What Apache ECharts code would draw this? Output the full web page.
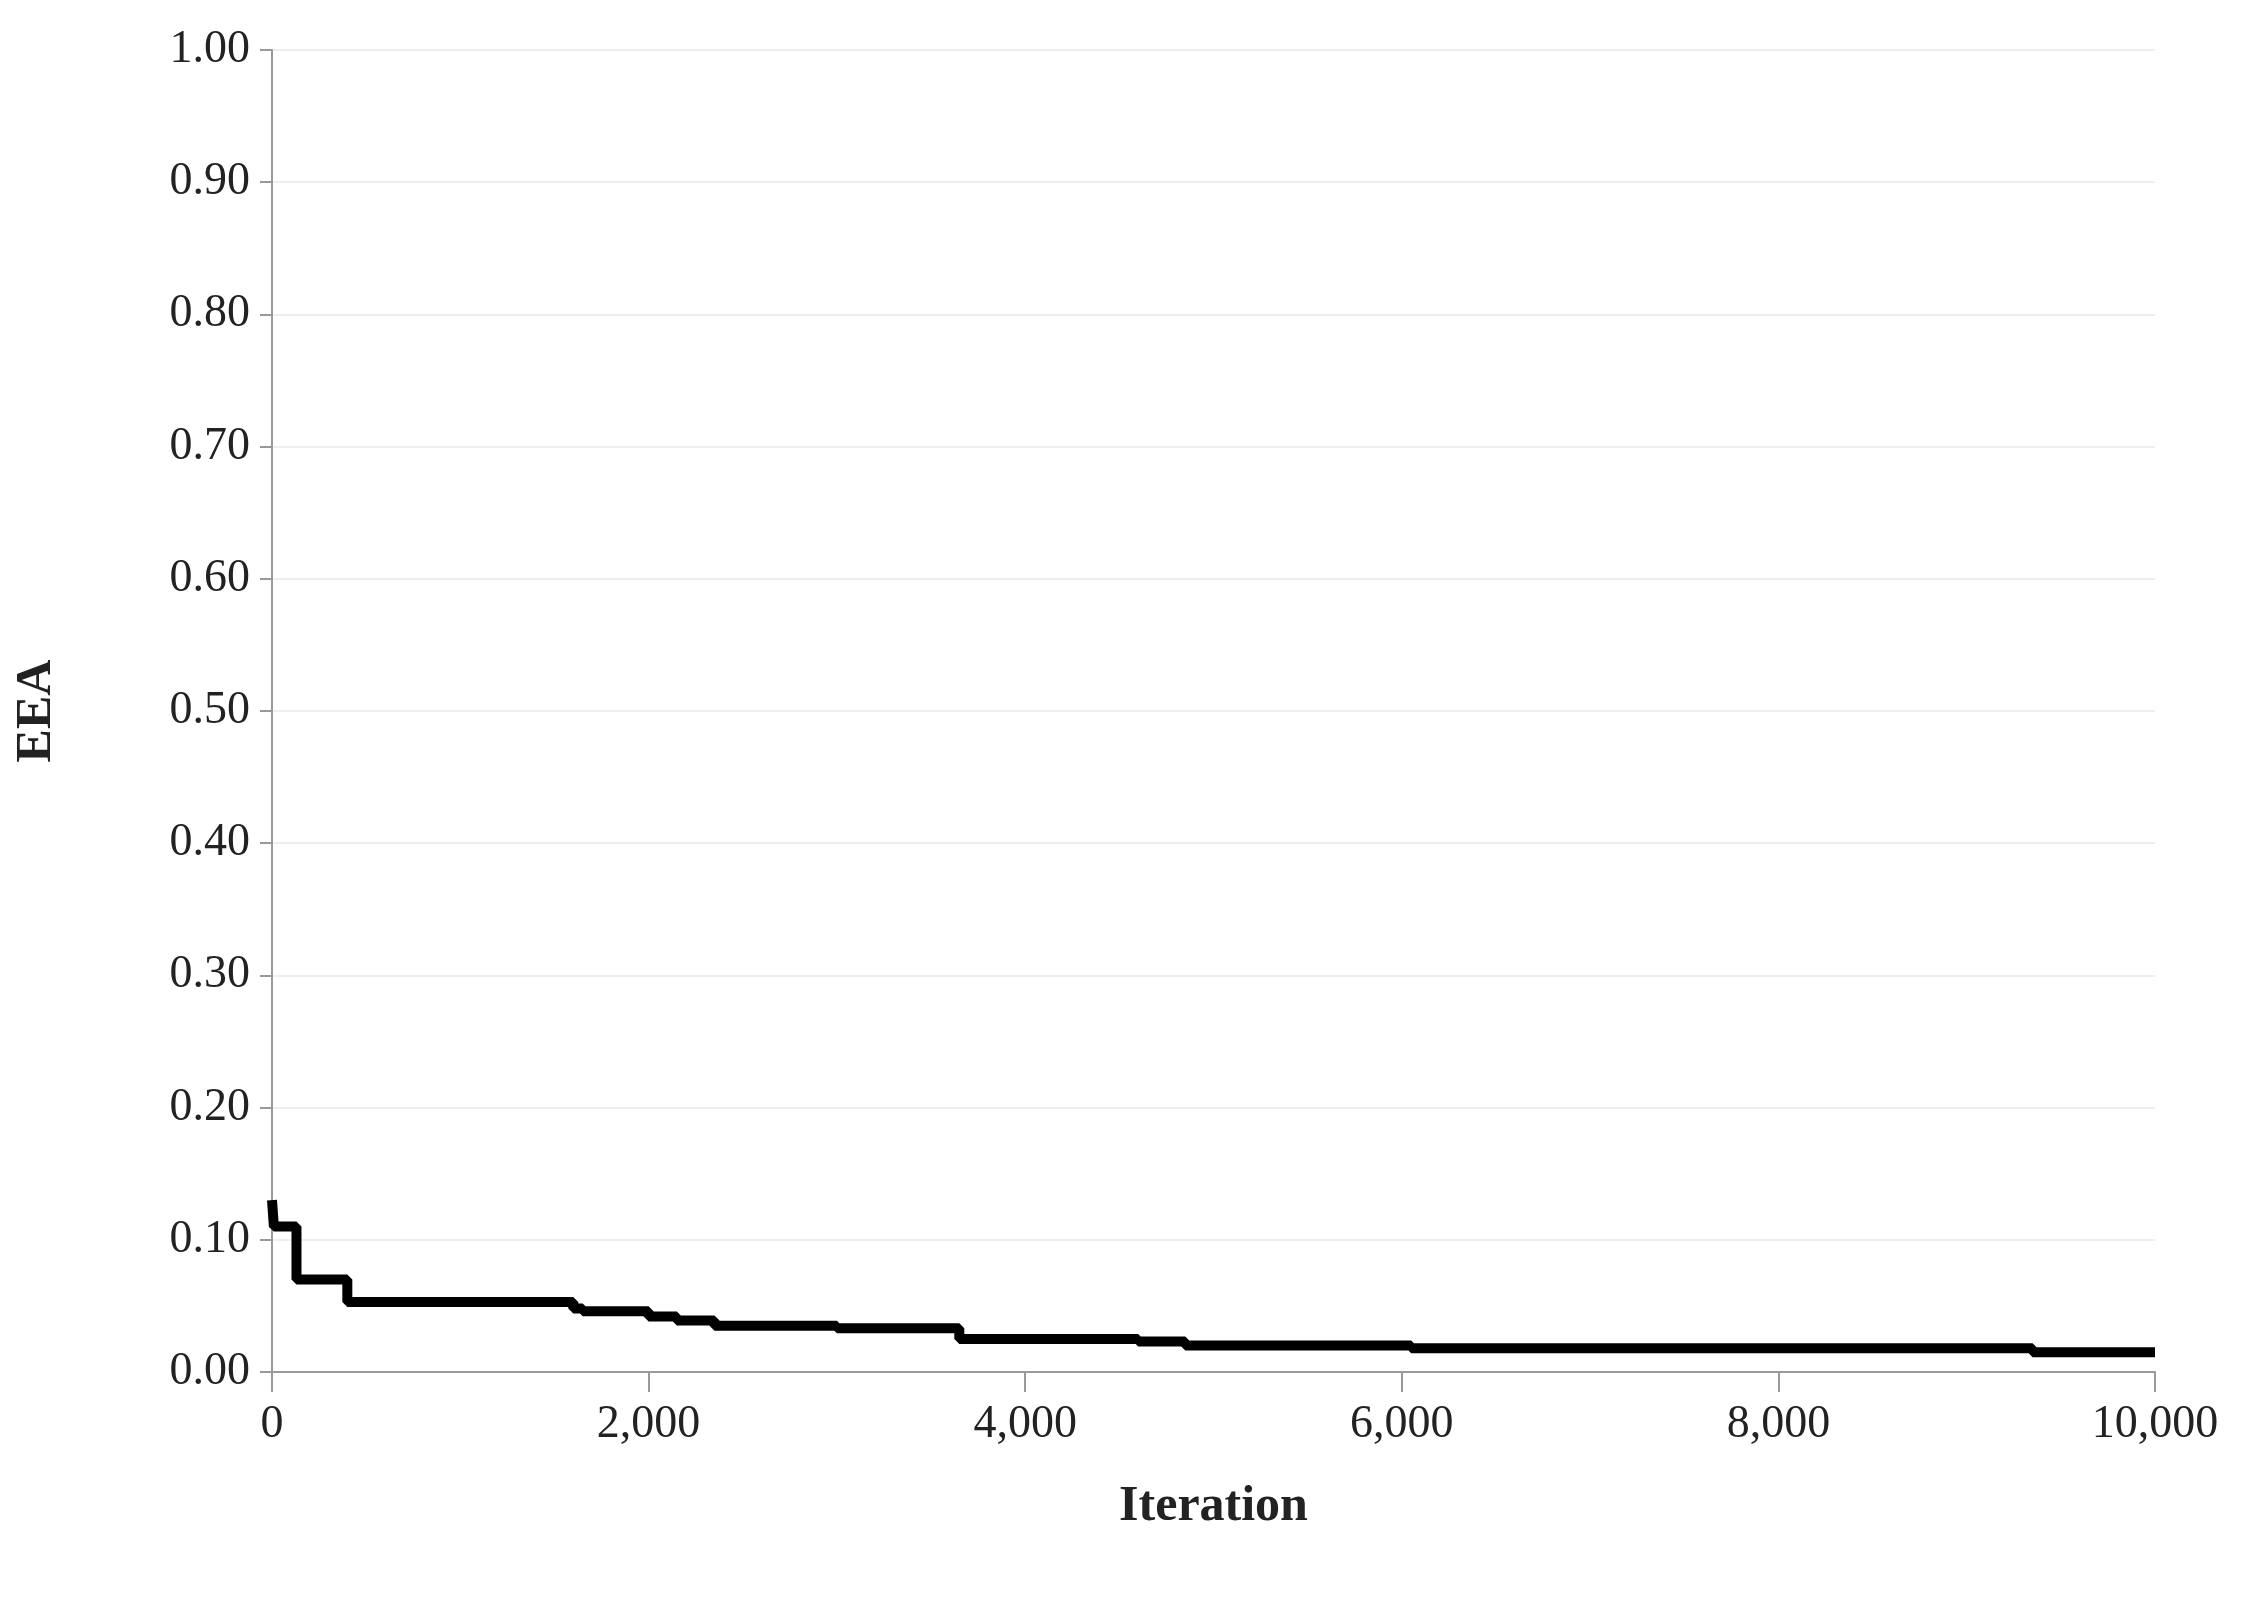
<!DOCTYPE html>
<html><head><meta charset="utf-8">
<script src="https://cdn.jsdelivr.net/npm/echarts@6/dist/echarts.min.js"></script>
<style>html,body{margin:0;background:#fff}#c{width:2249px;height:1597px}</style>
</head><body><div id="c"></div>
<script>
const iterations = [0, 10, 130, 400, 1600, 1650, 2000, 2150, 2350, 3000, 3650, 4600, 4850, 6050, 9350, 10000];
const eea = [0.13, 0.11, 0.07, 0.053, 0.048, 0.046, 0.042, 0.039, 0.035, 0.033, 0.025, 0.023, 0.020, 0.018, 0.015, 0.015];
const yTicks = [0, 0.1, 0.2, 0.3, 0.4, 0.5, 0.6, 0.7, 0.8, 0.9, 1.0];
const font = "Liberation Serif";
const chart = echarts.init(document.getElementById('c'));
chart.setOption({
  animation: false,
  grid: {left: 272, right: 94, top: 50, bottom: 225},
  xAxis: {type: 'value', min: 0, max: 10000, interval: 2000,
    name: 'Iteration', nameLocation: 'middle', nameGap: 110,
    nameTextStyle: {fontFamily: font, fontWeight: 'bold', fontSize: 50, color: '#222'},
    axisLine: {lineStyle: {color: '#999', width: 2}},
    axisTick: {show: true, length: 20, lineStyle: {color: '#999', width: 2}},
    axisLabel: {fontFamily: font, fontSize: 46, color: '#222', margin: 30},
    splitLine: {show: false}},
  yAxis: {type: 'value', min: 0, max: 1, interval: 0.1,
    name: 'EEA', nameLocation: 'middle', nameGap: 210,
    nameTextStyle: {fontFamily: font, fontWeight: 'bold', fontSize: 50, color: '#222'},
    axisLine: {show: true, lineStyle: {color: '#999', width: 2}},
    axisTick: {show: true, inside: false, length: 12, lineStyle: {color: '#999', width: 2}},
    axisLabel: {fontFamily: font, fontSize: 46, color: '#222', margin: 22,
      formatter: v => v.toFixed(2)},
    splitLine: {lineStyle: {color: '#eeeeee', width: 2}}},
  series: [{type: 'line', step: 'end', symbol: 'none',
    data: iterations.map((x, i) => [x, eea[i]]),
    lineStyle: {color: '#000', width: 10}}]
});
</script></body></html>
